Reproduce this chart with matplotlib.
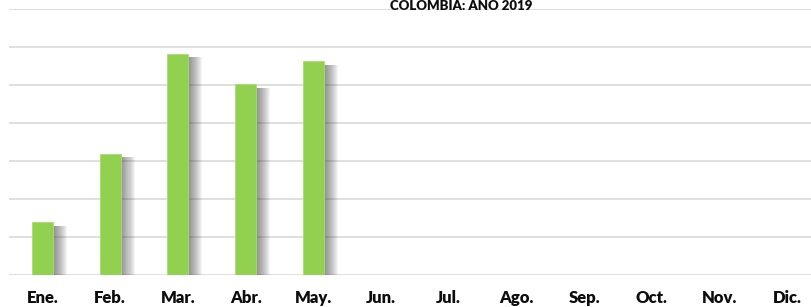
import numpy as np
import matplotlib.pyplot as plt
import matplotlib.patheffects as pe

months = ['Ene.', 'Feb.', 'Mar.', 'Abr.', 'May.', 'Jun.',
          'Jul.', 'Ago.', 'Sep.', 'Oct.', 'Nov.', 'Dic.']
values = [1.39, 3.20, 5.83, 5.03, 5.63]   # only Jan-May reported
title = 'COLOMBIA: AÑO 2019'

plt.rcParams['font.family'] = ['Lato', 'DejaVu Sans']

fig = plt.figure(figsize=(8.11, 3.07), dpi=100)
ax = fig.add_axes([8.65 / 811, 32 / 307, 812.4 / 811, 265.5 / 307])

x = np.arange(len(months))
# soft shadow to the lower right, stacked to fake a blur
shadow = [pe.SimplePatchShadow(offset=(o, -2.5), shadow_rgbFace='#404040', alpha=0.055)
          for o in np.linspace(0.5, 10.0, 14)]
bars = ax.bar(x[:len(values)], values, width=0.31, color='#92D050',
              edgecolor='#A9DC78', linewidth=0.6, zorder=3)
for b in bars:
    b.set_path_effects(shadow + [pe.Normal()])

ax.set_xlim(-0.5, 11.5)
ax.set_ylim(0, 7)
ax.set_yticks(np.arange(0, 8, 1))
ax.yaxis.grid(True, color='#D9D9D9', linewidth=1.2, zorder=0)
ax.set_axisbelow(True)
ax.tick_params(axis='y', left=False, labelleft=False)
ax.tick_params(axis='x', length=0, pad=11)
ax.set_xticks(x)
ax.set_xticklabels(months, fontsize=12, fontweight='heavy', color='#0d0d0d')
for s in ax.spines.values():
    s.set_visible(False)

fig.text(461 / 811, 1 - 9.5 / 307, title, ha='center', va='baseline',
         fontsize=9.5, fontweight='heavy', color='#0d0d0d')

fig.savefig('out.png', dpi=100)
